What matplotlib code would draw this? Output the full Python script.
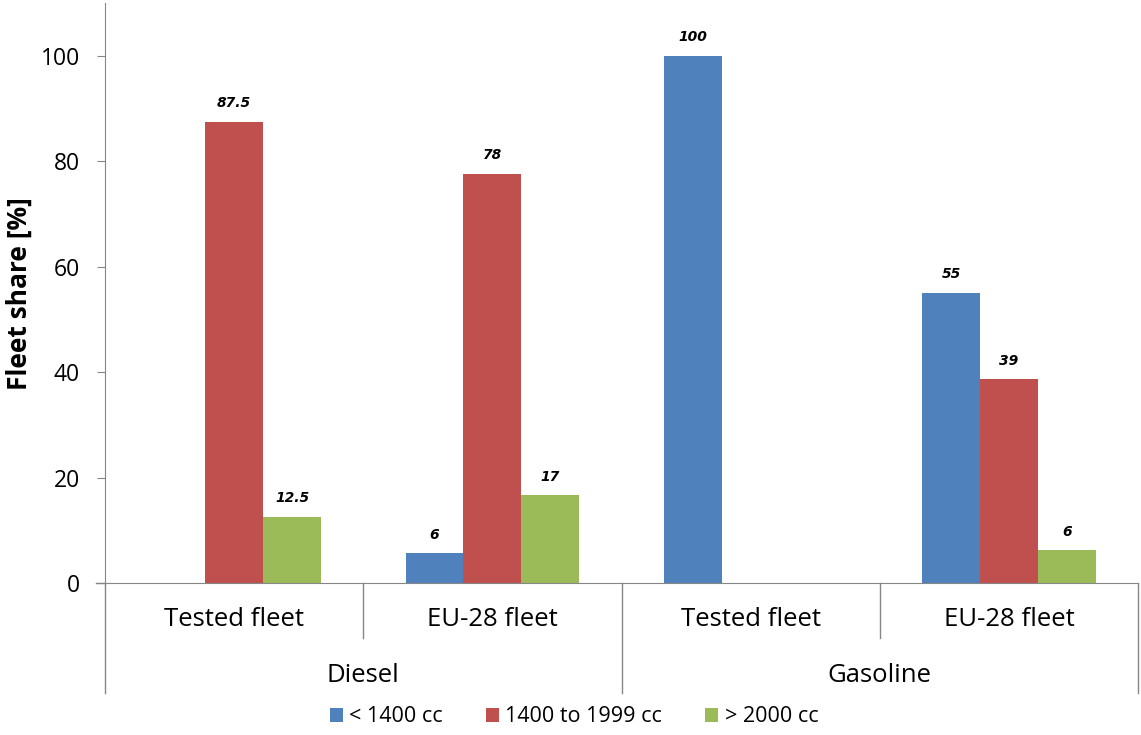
import matplotlib
matplotlib.use("Agg")
import matplotlib.pyplot as plt
import matplotlib.transforms as mtransforms
from matplotlib.patches import Patch

plt.rcParams['font.family'] = ['Open Sans', 'DejaVu Sans']

subcats = ["Tested fleet", "EU-28 fleet", "Tested fleet", "EU-28 fleet"]
groups = ["Diesel", "Gasoline"]
series_names = ["< 1400 cc", "1400 to 1999 cc", "> 2000 cc"]
small = [0, 5.6, 100, 55]
medium = [87.5, 77.6, 0, 38.6]
large = [12.5, 16.6, 0, 6.2]
small_lbl = ["", "6", "100", "55"]
medium_lbl = ["87.5", "78", "", "39"]
large_lbl = ["12.5", "17", "", "6"]
colors = ["#4F81BD", "#C0504D", "#9BBB59"]

W, H = 1141, 735
fig = plt.figure(figsize=(W/100, H/100), dpi=100)
ax = fig.add_axes([105/W, 1-583/H, (1138-105)/W, 580/H])

bw = 0.224
x = list(range(len(subcats)))
series = [small, medium, large]
labels = [small_lbl, medium_lbl, large_lbl]
for i, (vals, lbls) in enumerate(zip(series, labels)):
    pos = [xi + (i-1)*bw for xi in x]
    ax.bar(pos, vals, width=bw, color=colors[i], zorder=2)
    for p, v, l in zip(pos, vals, lbls):
        if l:
            ax.text(p, v + 2.2, l, ha='center', va='bottom', fontsize=10,
                    fontweight='bold', fontstyle='italic', family='DejaVu Sans')

ax.set_xlim(-0.5, 3.5)
ax.set_ylim(0, 110)
ax.set_yticks([0, 20, 40, 60, 80, 100])
ax.tick_params(axis='y', labelsize=16.5, length=6, color='#868686', pad=12)
ax.set_xticks([])
for s in ['top', 'right']:
    ax.spines[s].set_visible(False)
for s in ['left', 'bottom']:
    ax.spines[s].set_color('#868686')
fig.text(19/W, 1-294/H, "Fleet share [%]", rotation=90, ha='center', va='center',
         fontsize=19, fontweight='bold')

trans = mtransforms.blended_transform_factory(ax.transData, ax.transAxes)
ax.plot([-0.5 - 9/258, -0.5], [0, 0], transform=trans, color='#868686', lw=1, clip_on=False)
inner = -55/580
outer = -110/580
for xs in [0.5, 2.5]:
    ax.plot([xs, xs], [0, inner], transform=trans, color='#868686', lw=1, clip_on=False)
for xs in [-0.5, 1.5, 3.5]:
    ax.plot([xs, xs], [0, outer], transform=trans, color='#868686', lw=1, clip_on=False)

for xi, name in zip(x, subcats):
    ax.text(xi, -37/580, name, transform=trans, ha='center', va='center', fontsize=18.5)
for gi, g in enumerate(groups):
    ax.text(0.5 + 2*gi, -92/580, g, transform=trans, ha='center', va='center', fontsize=18.5)

handles = [Patch(facecolor=c, edgecolor='none') for c in colors]
fig.legend(handles, series_names, loc='center', bbox_to_anchor=(574/W, 1-717/H), ncol=3,
           frameon=False, fontsize=15.5, handlelength=0.6, handleheight=0.6,
           handletextpad=0.3, columnspacing=2.0, borderpad=0)

fig.savefig("out.png", dpi=100)
